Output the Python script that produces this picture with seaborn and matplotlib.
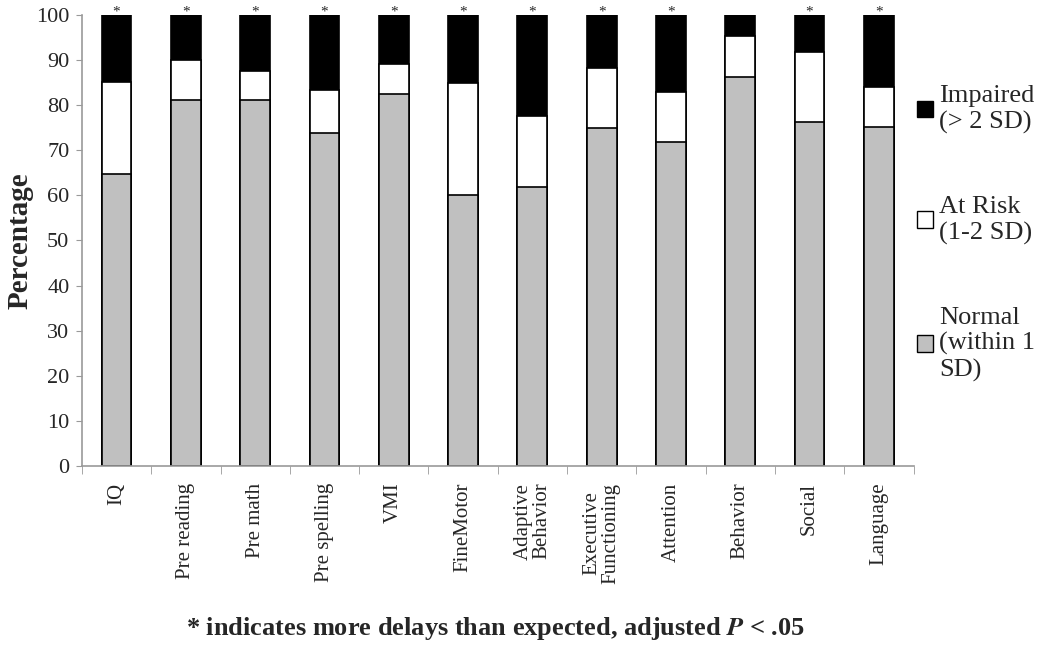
import seaborn as sns
import pandas as pd
import matplotlib
matplotlib.use("Agg")
import matplotlib.pyplot as plt
from matplotlib.patches import Patch

# values (percent of children)
domains = ["IQ", "Pre reading", "Pre math", "Pre spelling", "VMI", "FineMotor",
           "Adaptive\nBehavior", "Executive\nFunctioning", "Attention", "Behavior",
           "Social", "Language"]
normal = [64.7, 81.2, 81.2, 73.7, 82.4, 60.1, 61.8, 74.9, 71.8, 86.3, 76.3, 75.1]
at_risk = [20.4, 8.7, 6.4, 9.7, 6.6, 24.7, 15.8, 13.3, 11.0, 9.1, 15.4, 8.8]
impaired = [14.9, 10.1, 12.4, 16.6, 11.0, 15.2, 22.4, 11.8, 17.2, 4.6, 8.3, 16.1]
significant = [True, True, True, True, True, True, True, True, True, False, True, True]

df = pd.DataFrame({"Domain": domains, "Normal": normal, "AtRisk": at_risk, "Impaired": impaired})
df["top_risk"] = df["Normal"] + df["AtRisk"]
df["top_imp"] = df["top_risk"] + df["Impaired"]

sns.set_style("white")
plt.rcParams["font.family"] = ["Liberation Serif", "DejaVu Serif"]
plt.rcParams["mathtext.fontset"] = "stix"

fig = plt.figure(figsize=(10.5, 6.45), dpi=100)
ax = fig.add_axes([0.078, 0.2775, 0.792, 0.6995])

# stacked bars drawn as overlapping cumulative heights
bar_kw = dict(x="Domain", width=0.43, edgecolor="black", linewidth=1.2, ax=ax)
sns.barplot(data=df, y="top_imp", color="black", **bar_kw)
sns.barplot(data=df, y="top_risk", color="white", **bar_kw)
sns.barplot(data=df, y="Normal", color="#c0c0c0", **bar_kw)
for p in ax.patches:
    p.set_edgecolor("black")

ax.set_ylim(0, 100)
ax.set_xlim(-0.5, len(domains) - 0.5)
ax.set_yticks(range(0, 101, 10))
ax.tick_params(axis="y", labelsize=16, length=4, color="#999999", left=True, pad=5)
ax.set_xticks(range(len(domains)))
ax.set_xticklabels(domains, rotation=90, fontsize=15, va="top", linespacing=1.0)
ax.tick_params(axis="x", length=0, pad=12)
ax.set_xticks([i - 0.5 for i in range(len(domains) + 1)], minor=True)
ax.tick_params(axis="x", which="minor", length=6, color="#999999", bottom=True)
ax.set_xlabel("")
ax.set_ylabel("Percentage", fontsize=21, fontweight="bold", labelpad=2)
sns.despine(ax=ax)
for s in ["left", "bottom"]:
    ax.spines[s].set_color("#999999")
    ax.spines[s].set_linewidth(1.2)

for i, sig in enumerate(significant):
    if sig:
        ax.text(i, 99.9, "*", ha="center", va="baseline", fontsize=11, clip_on=False)

handles = [Patch(facecolor="black", edgecolor="black", label="Impaired\n(> 2 SD)"),
           Patch(facecolor="white", edgecolor="black", label="At Risk\n(1-2 SD)"),
           Patch(facecolor="#c0c0c0", edgecolor="black", label="Normal\n(within 1\nSD)")]
fig.legend(handles=handles, loc="upper left", bbox_to_anchor=(0.863, 0.884), frameon=False,
           fontsize=19, handlelength=0.6, handleheight=0.6, handletextpad=0.25,
           labelspacing=2.35, borderaxespad=0)

fig.text(0.472, 0.004, r"* indicates more delays than expected, adjusted $\mathbfit{P}$ < .05",
         ha="center", va="bottom", fontsize=19, fontweight="bold")

plt.savefig("out.png", dpi=100)
